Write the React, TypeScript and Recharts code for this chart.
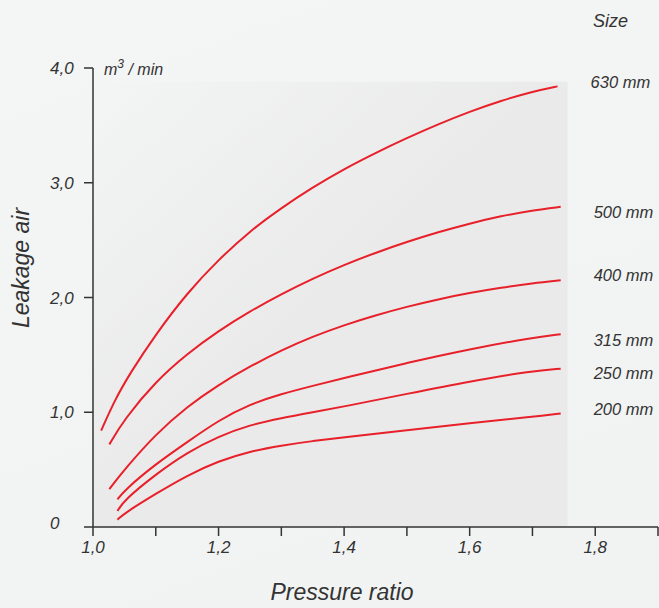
import React from 'react';
import {
  LineChart,
  Line,
  XAxis,
  YAxis,
  ReferenceArea,
  LabelList,
  Customized,
} from 'recharts';

// axis ticks
const pressureTicks = [1.0, 1.1, 1.2, 1.3, 1.4, 1.5, 1.6, 1.7, 1.8, 1.9];
const leakageTicks = [0, 1, 2, 3, 4];

// curves, one pair of arrays per valve size
const ratio630 = [1.013, 1.035, 1.059, 1.1, 1.15, 1.2, 1.25, 1.3, 1.35, 1.4, 1.45, 1.5, 1.55, 1.6, 1.65, 1.7, 1.74];
const leak630 = [0.84, 1.11, 1.34, 1.68, 2.04, 2.33, 2.58, 2.78, 2.96, 3.12, 3.26, 3.39, 3.51, 3.62, 3.715, 3.795, 3.84];

const ratio500 = [1.026, 1.05, 1.1, 1.15, 1.2, 1.25, 1.3, 1.35, 1.4, 1.45, 1.5, 1.55, 1.6, 1.65, 1.7, 1.745];
const leak500 = [0.72, 0.94, 1.27, 1.51, 1.71, 1.88, 2.03, 2.165, 2.285, 2.39, 2.485, 2.57, 2.645, 2.71, 2.76, 2.79];

const ratio400 = [1.026, 1.05, 1.1, 1.15, 1.2, 1.25, 1.3, 1.35, 1.4, 1.45, 1.5, 1.55, 1.6, 1.65, 1.7, 1.745];
const leak400 = [0.33, 0.5, 0.81, 1.05, 1.24, 1.4, 1.54, 1.66, 1.76, 1.845, 1.92, 1.985, 2.04, 2.085, 2.125, 2.15];

const ratio315 = [1.039, 1.05, 1.1, 1.15, 1.2, 1.25, 1.3, 1.35, 1.4, 1.5, 1.6, 1.7, 1.745];
const leak315 = [0.24, 0.32, 0.55, 0.74, 0.93, 1.07, 1.16, 1.23, 1.3, 1.43, 1.55, 1.65, 1.68];

const ratio250 = [1.039, 1.05, 1.1, 1.15, 1.2, 1.25, 1.3, 1.35, 1.4, 1.5, 1.6, 1.7, 1.745];
const leak250 = [0.14, 0.235, 0.46, 0.65, 0.79, 0.89, 0.95, 1.0, 1.05, 1.16, 1.27, 1.36, 1.38];

const ratio200 = [1.039, 1.05, 1.1, 1.15, 1.2, 1.25, 1.3, 1.35, 1.4, 1.5, 1.6, 1.7, 1.745];
const leak200 = [0.064, 0.12, 0.29, 0.45, 0.575, 0.66, 0.71, 0.75, 0.78, 0.845, 0.905, 0.96, 0.99];

const sizes = ['630 mm', '500 mm', '400 mm', '315 mm', '250 mm', '200 mm'];

const toPoints = (xs: number[], ys: number[]) => xs.map((x, i) => ({ x, y: ys[i] }));

const series = [
  { name: sizes[0], data: toPoints(ratio630, leak630), labelDy: -4 },
  { name: sizes[1], data: toPoints(ratio500, leak500), labelDy: 5 },
  { name: sizes[2], data: toPoints(ratio400, leak400), labelDy: -5 },
  { name: sizes[3], data: toPoints(ratio315, leak315), labelDy: 6 },
  { name: sizes[4], data: toPoints(ratio250, leak250), labelDy: 4 },
  { name: sizes[5], data: toPoints(ratio200, leak200), labelDy: -4 },
];

const FONT = "'Liberation Sans', Arial, Helvetica, sans-serif";
const INK = '#333';
const RED = '#e8202a';

const fmt = (v: number) => (v === 0 ? '0' : v.toFixed(1).replace('.', ','));

const YTick = (props: any) => {
  const { y, payload } = props;
  return (
    <text x={50} y={y} dy={payload.value === 0 ? 2 : 6} fontFamily={FONT} fontStyle="italic" fontSize={17} fill={INK}>
      {fmt(payload.value)}
    </text>
  );
};

const XTick = (props: any) => {
  const { x, y, payload } = props;
  const v = Math.round(payload.value * 10);
  if (v % 2 !== 0) return null;
  return (
    <text x={x} y={y} dy={15} textAnchor="middle" fontFamily={FONT} fontStyle="italic" fontSize={17} fill={INK}>
      {fmt(payload.value)}
    </text>
  );
};

const Captions = () => (
  <g fontFamily={FONT} fontStyle="italic" fill={INK}>
    <text x={104} y={75} fontSize={16}>
      m<tspan dy={-7} fontSize={12}>3</tspan>
      <tspan dy={7}> / min</tspan>
    </text>
    <text x={593} y={27} fontSize={18}>Size</text>
    <text x={342} y={600} fontSize={23} textAnchor="middle">Pressure ratio</text>
    <text x={29} y={268} fontSize={23} textAnchor="middle" transform="rotate(-90 29 268)">Leakage air</text>
  </g>
);

const makeEndLabel = (name: string, count: number, dy: number) => (props: any) => {
  const { x, y, index } = props;
  if (index !== count - 1) return null;
  return (
    <text x={x + 33} y={y + dy + 6} fontFamily={FONT} fontStyle="italic" fontSize={16.5} fill={INK}>
      {name}
    </text>
  );
};

export default function App() {
  return (
    <div
      style={{
        position: 'absolute',
        left: 0,
        top: 0,
        width: 659,
        height: 608,
        background: 'linear-gradient(160deg, #f4f5f5 0%, #f1f2f2 100%)',
      }}
    >
      <LineChart width={659} height={608} margin={{ top: 68, right: 1, bottom: 0, left: 33 }}>
        <defs>
          <linearGradient id="shade" x1="0" y1="0" x2="0.5" y2="0.5">
            <stop offset="0%" stopColor="#eaeaea" stopOpacity={0} />
            <stop offset="100%" stopColor="#eaeaea" stopOpacity={1} />
          </linearGradient>
        </defs>
        <ReferenceArea x1={1.0} x2={1.756} y1={0} y2={3.88} fill="url(#shade)" fillOpacity={1} stroke="none" />
        <XAxis
          type="number"
          dataKey="x"
          domain={[1.0, 1.9]}
          ticks={pressureTicks}
          interval={0}
          height={81}
          tickSize={9}
          tickMargin={2}
          stroke={INK}
          strokeWidth={1.5}
          tick={<XTick />}
          allowDataOverflow
        />
        <YAxis
          type="number"
          dataKey="y"
          domain={[0, 4]}
          ticks={leakageTicks}
          interval={0}
          width={60}
          tickSize={9}
          tickMargin={0}
          stroke={INK}
          strokeWidth={1.5}
          tick={<YTick />}
          allowDataOverflow
        />
        {series.map((s) => (
          <Line
            key={s.name}
            data={s.data}
            dataKey="y"
            type="basis"
            stroke={RED}
            strokeWidth={2}
            dot={false}
            activeDot={false}
            isAnimationActive={false}
          >
            <LabelList dataKey="y" content={makeEndLabel(s.name, s.data.length, s.labelDy)} />
          </Line>
        ))}
        <Customized component={Captions} />
      </LineChart>
    </div>
  );
}
